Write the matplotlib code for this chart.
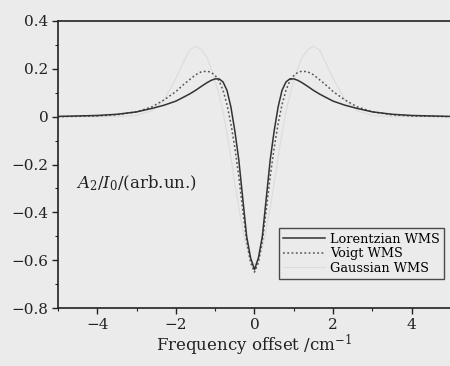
import numpy as np
import matplotlib.pyplot as plt
from matplotlib.ticker import MultipleLocator

## frequency offset grid (cm^-1) and the three second-harmonic signals
offset = [-5.0, -4.0, -3.5, -3.0, -2.6, -2.3, -2.0, -1.8, -1.65, -1.5, -1.35, -1.2, -1.1, -1.0,
          -0.9, -0.8, -0.7, -0.6, -0.5, -0.4, -0.3, -0.2, -0.1, 0.0,
          0.1, 0.2, 0.3, 0.4, 0.5, 0.6, 0.7, 0.8, 0.9, 1.0, 1.1, 1.2, 1.35, 1.5,
          1.65, 1.8, 2.0, 2.3, 2.6, 3.0, 3.5, 4.0, 5.0]

lorentz = [0.001, 0.005, 0.010, 0.020, 0.035, 0.048, 0.065, 0.082, 0.095, 0.110, 0.127, 0.143, 0.152, 0.158,
           0.158, 0.145, 0.110, 0.040, -0.060, -0.180, -0.340, -0.500, -0.590, -0.640,
           -0.590, -0.500, -0.340, -0.180, -0.060, 0.040, 0.110, 0.145, 0.158, 0.158, 0.152, 0.143, 0.127, 0.110,
           0.095, 0.082, 0.065, 0.048, 0.035, 0.020, 0.010, 0.005, 0.001]

voigt = [0.000, 0.003, 0.008, 0.020, 0.042, 0.070, 0.105, 0.135, 0.155, 0.175, 0.188, 0.190, 0.185, 0.172,
         0.150, 0.110, 0.050, -0.030, -0.130, -0.250, -0.390, -0.520, -0.610, -0.650,
         -0.610, -0.520, -0.390, -0.250, -0.130, -0.030, 0.050, 0.110, 0.150, 0.172, 0.185, 0.190, 0.188, 0.175,
         0.155, 0.135, 0.105, 0.070, 0.042, 0.020, 0.008, 0.003, 0.000]

gauss = [0.000, 0.000, 0.000, 0.005, 0.025, 0.070, 0.160, 0.230, 0.280, 0.295, 0.280, 0.245, 0.200, 0.150,
         0.090, 0.020, -0.070, -0.170, -0.280, -0.380, -0.470, -0.550, -0.600, -0.620,
         -0.600, -0.550, -0.470, -0.380, -0.280, -0.170, -0.070, 0.020, 0.090, 0.150, 0.200, 0.245, 0.280, 0.295,
         0.280, 0.230, 0.160, 0.070, 0.025, 0.005, 0.000, 0.000, 0.000]

labels = ['Lorentzian WMS', 'Voigt WMS', 'Gaussian WMS']

plt.rcParams['font.family'] = ['DejaVu Serif']
plt.rcParams['mathtext.fontset'] = 'dejavuserif'

bg = '#ebebeb'
fig = plt.figure(figsize=(4.5, 3.66), dpi=100, facecolor=bg)
ax = fig.add_axes([58 / 450, 1 - 308 / 366, 393 / 450, 287 / 366])
ax.set_facecolor(bg)

g, = ax.plot(offset, gauss, color='#dcdcdc', lw=0.8, zorder=1)
l, = ax.plot(offset, lorentz, color='#333333', lw=1.1, zorder=3)
v, = ax.plot(offset, voigt, color='#555555', lw=1.1, ls=(0, (1.2, 1.6)), zorder=2)

ax.set_xlim(-5, 5)
ax.set_ylim(-0.8, 0.4)
ax.set_xticks([-4, -2, 0, 2, 4])
ax.set_xticklabels(['\u22124', '\u22122', '0', '2', '4'])
ax.set_yticks([0.4, 0.2, 0, -0.2, -0.4, -0.6, -0.8])
ax.set_yticklabels(['0.4', '0.2', '0', '\u22120.2', '\u22120.4', '\u22120.6', '\u22120.8'])
ax.xaxis.set_minor_locator(MultipleLocator(1))
ax.yaxis.set_minor_locator(MultipleLocator(0.1))
ax.tick_params(which='major', direction='out', length=4, width=1, labelsize=11, colors='#222222', pad=3)
ax.tick_params(which='minor', direction='out', length=2.5, width=0.8, colors='#222222')
ax.spines['right'].set_visible(False)
for s in ['left', 'bottom', 'top']:
    ax.spines[s].set_linewidth(1.2)
    ax.spines[s].set_color('#222222')

ax.set_xlabel('Frequency offset /cm$^{-1}$', fontsize=12, color='#222222', labelpad=1)
ax.text(-4.55, -0.28, '$A_2$/$I_0$/(arb.un.)', fontsize=12, color='#222222', va='center')

leg = ax.legend([l, v, g], labels, loc='lower right', bbox_to_anchor=(0.983, 0.1), fontsize=9.3,
                frameon=True, fancybox=False, handlelength=3.2, handletextpad=0.4, borderpad=0.35,
                labelspacing=0.12, borderaxespad=0)
leg.get_frame().set_edgecolor('#222222')
leg.get_frame().set_linewidth(1.0)
leg.get_frame().set_facecolor(bg)

plt.savefig('out.png', dpi=100, facecolor=bg)
